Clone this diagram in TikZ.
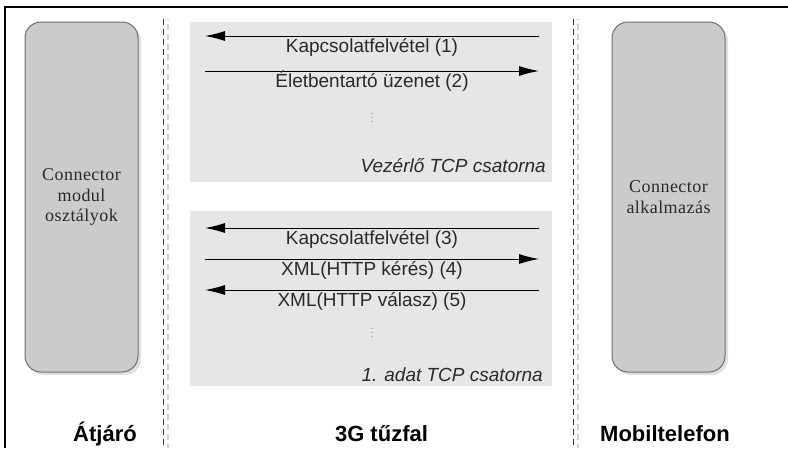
\documentclass[tikz,border=0pt]{standalone}
\usepackage{fontspec}
\setsansfont{Liberation Sans}
\newfontfamily\boxserif[LetterSpace=2.5]{Liberation Serif}
\usetikzlibrary{arrows.meta,shadows}
\definecolor{panelc}{HTML}{E6E6E6}
\definecolor{boxfill}{HTML}{CBCBCB}
\definecolor{boxline}{HTML}{6E6E6E}
\definecolor{shadowc}{HTML}{E0E0E0}
\definecolor{dashlight}{HTML}{D0D0D0}
\definecolor{dashdark}{HTML}{333333}
\definecolor{txtc}{HTML}{2A2A2A}
\begin{document}
\begin{tikzpicture}[x=1pt,y=-1pt,
  panelbox/.style={fill=panelc, draw=none, inner sep=0pt},
  devbox/.style={fill=boxfill, draw=boxline, line width=1pt, rounded corners=16pt, inner sep=0pt,
    minimum width=113pt, minimum height=350pt, align=center, text=txtc,
    font=\boxserif\fontsize{18}{20.5}\selectfont,
    drop shadow={fill=shadowc, opacity=1, shadow xshift=3pt, shadow yshift=-3pt}},
  msg/.style={line width=1pt, black},
  tip/.style={-{Latex[length=20pt,width=10pt]}},
  msglbl/.style={anchor=base, inner sep=0pt, text=txtc, font=\sffamily\fontsize{19}{19}\selectfont},
  chanlbl/.style={anchor=base east, inner sep=0pt, text=txtc, font=\sffamily\itshape\fontsize{19}{19}\selectfont},
  region/.style={inner sep=0pt, text=black, font=\sffamily\bfseries\fontsize{22}{22}\selectfont},
  dotsn/.style={inner sep=0pt, text=black!55, font=\fontsize{12}{12}\selectfont},
  divdark/.style={dashdark, line width=1.6pt, dash pattern=on 5.5pt off 4.5pt},
  divlight/.style={dashlight, line width=1.6pt, dash pattern=on 5.5pt off 4.5pt, dash phase=5pt}
]
\useasboundingbox (0,0) rectangle (788,448);
\fill[white] (0,0) rectangle (788,448);

% frame
\draw[line width=1.3pt] (5,448) -- (5,7) -- (788,7);

% dividers
\draw[divlight] (168,19) -- (168,448);
\draw[divdark] (163.5,19) -- (163.5,448);
\draw[divlight] (578,19) -- (578,448);
\draw[divdark] (573.5,19) -- (573.5,448);

% device boxes
\node[devbox] (gw) at (81.5,197) {Connector\\modul\\osztályok};
\node[devbox] (mob) at (668.5,197) {Connector\\alkalmazás};

% channel panels
\node[panelbox, minimum width=362pt, minimum height=160pt] (p1) at (371,102) {};
\node[panelbox, minimum width=362pt, minimum height=175pt] (p2) at (371,298.5) {};

% control channel messages
\coordinate (m1l) at (205,36);  \coordinate (m1r) at (539,36);
\coordinate (m2l) at (205,71);  \coordinate (m2r) at (539,71);
\draw[msg,tip] (m1r) -- (m1l);
\draw[msg,tip] (m2l) -- (m2r);
\node[msglbl] (t1) at (372,52) {Kapcsolatfelvétel (1)};
\node[msglbl] (t2) at (372,87) {Életbentartó üzenet (2)};
\node[dotsn] (d1) at (372,115) {$\vdots$};
\node[chanlbl] (c1) at (546,172) {Vezérlő TCP csatorna};

% data channel messages
\coordinate (m3l) at (205,228); \coordinate (m3r) at (539,228);
\coordinate (m4l) at (205,259); \coordinate (m4r) at (539,259);
\coordinate (m5l) at (205,290); \coordinate (m5r) at (539,290);
\draw[msg,tip] (m3r) -- (m3l);
\draw[msg,tip] (m4l) -- (m4r);
\draw[msg,tip] (m5r) -- (m5l);
\node[msglbl] (t3) at (372,244) {Kapcsolatfelvétel (3)};
\node[msglbl] (t4) at (372,275) {XML(HTTP kérés) (4)};
\node[msglbl] (t5) at (372,306) {XML(HTTP válasz) (5)};
\node[dotsn] (d2) at (372,330) {$\vdots$};
\node[chanlbl] (c2) at (543,381) {1. adat TCP csatorna};

% region labels
\node[region, anchor=base east] (r1) at (137,441) {Átjáró};
\node[region, anchor=base] (r2) at (381.5,441) {3G tűzfal};
\node[region, anchor=base west] (r3) at (600,441) {Mobiltelefon};
\end{tikzpicture}
\end{document}
